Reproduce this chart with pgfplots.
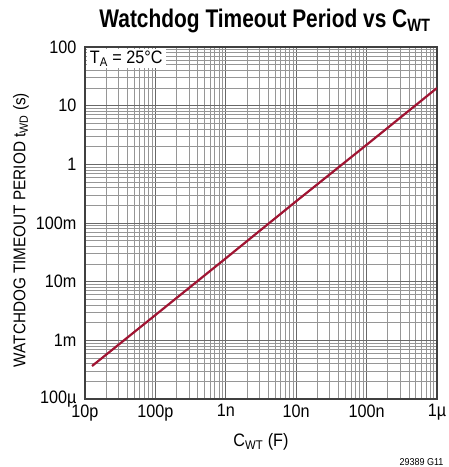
\documentclass[border=0pt]{standalone}
\usepackage{pgfplots}
\pgfplotsset{compat=1.18}
\usepackage{fontspec}
\setmainfont{Liberation Sans}[FakeStretch=0.9]
\newfontfamily\titlefont{Liberation Sans}[FakeStretch=0.82]
\definecolor{curve}{RGB}{160,20,50}
\definecolor{gridgray}{RGB}{150,150,150}
\definecolor{majgray}{RGB}{105,105,105}
\begin{document}
\begin{tikzpicture}[x=1pt,y=1pt]
\useasboundingbox (-85,-68) rectangle (364,399);
\begin{axis}[
  at={(0,0)}, anchor=south west,
  scale only axis, width=352pt, height=352pt,
  xmode=log, ymode=log,
  xmin=1e-11, xmax=1e-6, ymin=1e-4, ymax=1e2,
  xtick={1e-11,1e-10,1e-9,1e-8,1e-7,1e-6},
  xticklabels={10p,100p,1n,10n,100n,1µ},
  ytick={1e-4,1e-3,1e-2,1e-1,1,10,100},
  yticklabels={100µ,1m,10m,100m,1,10,100},
  major tick length=0pt, minor tick length=0pt,
  grid=both,
  major grid style={draw=majgray, line width=0.9pt},
  minor grid style={draw=gridgray, line width=0.8pt},
  axis line style={draw=black!75, line width=1.2pt},
  tick label style={font=\fontsize{18}{20}\selectfont},
  xticklabel style={yshift=-2pt},
  yticklabel style={xshift=-5pt},
  xlabel={C\textsubscript{WT} (F)},
  ylabel={WATCHDOG TIMEOUT PERIOD t\textsubscript{WD} (s)},
  every axis x label/.style={at={(axis description cs:0.5,0)}, anchor=center, yshift=-43pt, font=\fontsize{18}{20}\selectfont},
  every axis y label/.style={at={(axis description cs:0,0.5)}, rotate=90, anchor=center, yshift=64pt, xshift=-7pt, font=\fontsize{17}{19}\selectfont},
  clip=true,
]
\addplot[curve, line width=2.2pt] coordinates {
  (1.26e-11, 3.65e-4)
  (1e-10, 2.7e-3)
  (1e-9, 2.5e-2)
  (1e-8, 2.35e-1)
  (1e-7, 2.15)
  (1e-6, 20)
};
\node[fill=white, inner xsep=3pt, inner ysep=2pt, anchor=north west, font=\fontsize{18}{20}\selectfont] at (rel axis cs:0.005,0.995) {T\textsubscript{A} = 25°C};
\end{axis}
\node[font=\titlefont\bfseries\fontsize{25.5}{28}\selectfont, anchor=center] at (180,378) {Watchdog Timeout Period vs C\textsubscript{WT}};
\node[font=\fontsize{10}{12}\selectfont, anchor=east] at (362,-63) {29389 G11};
\end{tikzpicture}
\end{document}
